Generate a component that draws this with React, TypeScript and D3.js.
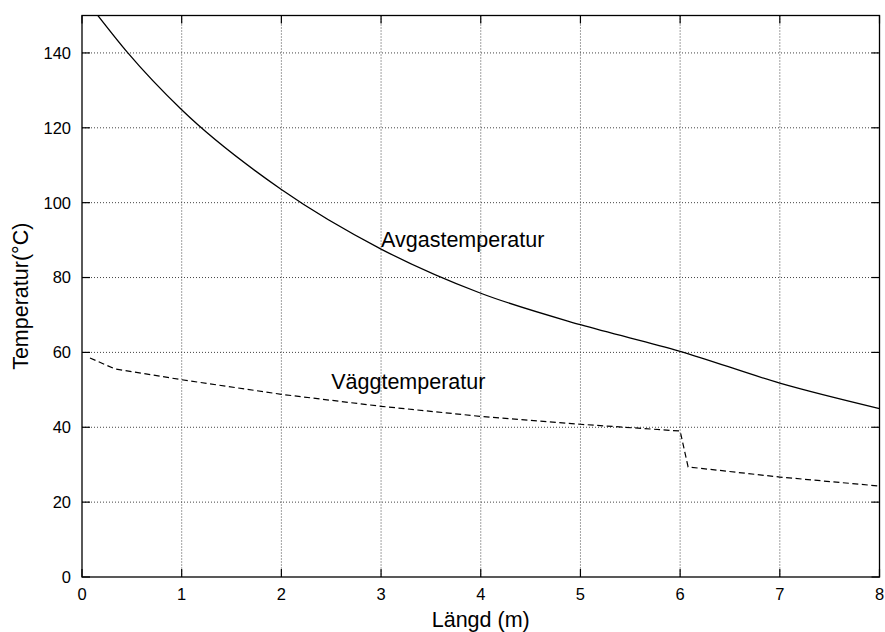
import React from "react";
import * as d3 from "d3";

// Exhaust gas temperature along the duct (solid line)
const gasLength = [0.15, 0.46, 1.0, 2.0, 3.0, 4.0, 5.0, 6.0, 7.0, 8.0];
const gasTemp = [150.3, 140, 124.8, 103.5, 87.6, 75.8, 67.4, 60.3, 51.8, 45];

// Wall temperature along the duct (dashed line)
const wallLength = [0.08, 0.33, 1.0, 2.0, 3.0, 4.0, 5.0, 6.0, 6.08, 7.0, 8.0];
const wallTemp = [58.5, 55.6, 52.7, 48.8, 45.6, 42.9, 40.8, 39.0, 29.4, 26.7, 24.3];

const xTicks = [0, 1, 2, 3, 4, 5, 6, 7, 8];
const yTicks = [0, 20, 40, 60, 80, 100, 120, 140];

const labels = [
  { text: "Avgastemperatur", x: 3.0, y: 88.1 },
  { text: "Väggtemperatur", x: 2.5, y: 50.3 },
];

const W = 885;
const H = 632;
const left = 82;
const right = 879.5;
const top = 15.5;
const bottom = 577;
const font = "'Liberation Sans', Arial, Helvetica, sans-serif";

export default function App() {
  const x = d3.scaleLinear().domain([0, 8]).range([left, right]);
  const y = d3.scaleLinear().domain([0, 150]).range([bottom, top]);

  const gasLine = d3
    .line<number>()
    .x((_, i) => x(gasLength[i]))
    .y((d) => y(d))
    .curve(d3.curveMonotoneX);
  const wallLine = d3
    .line<number>()
    .x((_, i) => x(wallLength[i]))
    .y((d) => y(d));

  const tick = 8;

  return (
    <svg
      width={W}
      height={H}
      style={{ position: "absolute", left: 0, top: 0, background: "#fff" }}
      fontFamily={font}
    >
      <defs>
        <clipPath id="plot-area">
          <rect x={left} y={top} width={right - left} height={bottom - top} />
        </clipPath>
      </defs>

      {/* grid */}
      <g stroke="#444" strokeWidth={1} strokeDasharray="1,2" fill="none">
        {xTicks.slice(1, -1).map((t) => (
          <line key={"gx" + t} x1={x(t)} x2={x(t)} y1={top} y2={bottom} />
        ))}
        {yTicks.slice(1).map((t) => (
          <line key={"gy" + t} x1={left} x2={right} y1={y(t)} y2={y(t)} />
        ))}
      </g>

      {/* inward ticks on all four sides */}
      <g stroke="#000" strokeWidth={1.2}>
        {xTicks.map((t) => (
          <g key={"tx" + t}>
            <line x1={x(t)} x2={x(t)} y1={bottom} y2={bottom - tick} />
            <line x1={x(t)} x2={x(t)} y1={top} y2={top + tick} />
          </g>
        ))}
        {yTicks.map((t) => (
          <g key={"ty" + t}>
            <line x1={left} x2={left + tick} y1={y(t)} y2={y(t)} />
            <line x1={right} x2={right - tick} y1={y(t)} y2={y(t)} />
          </g>
        ))}
      </g>

      {/* curves */}
      <g clipPath="url(#plot-area)" fill="none" stroke="#000">
        <path d={gasLine(gasTemp) ?? ""} strokeWidth={1.3} />
        <path d={wallLine(wallTemp) ?? ""} strokeWidth={1.2} strokeDasharray="6,3.5" />
      </g>

      {/* frame */}
      <rect
        x={left}
        y={top}
        width={right - left}
        height={bottom - top}
        fill="none"
        stroke="#000"
        strokeWidth={1.3}
      />

      {/* tick labels */}
      <g fontSize={16.5} fill="#000">
        {xTicks.map((t) => (
          <text key={"lx" + t} x={x(t)} y={600} textAnchor="middle">
            {t}
          </text>
        ))}
        {yTicks.map((t) => (
          <text key={"ly" + t} x={71} y={y(t)} dy="0.36em" textAnchor="end">
            {t}
          </text>
        ))}
      </g>

      {/* curve labels */}
      <g fontSize={21.5} fill="#000">
        {labels.map((l) => (
          <text key={l.text} x={x(l.x)} y={y(l.y)}>
            {l.text}
          </text>
        ))}
      </g>

      {/* axis titles */}
      <text x={(left + right) / 2} y={626.5} textAnchor="middle" fontSize={21.5}>
        Längd (m)
      </text>
      <text
        transform={`translate(27.5, ${(top + bottom) / 2}) rotate(-90)`}
        textAnchor="middle"
        fontSize={21.5}
      >
        Temperatur(°C)
      </text>
    </svg>
  );
}
